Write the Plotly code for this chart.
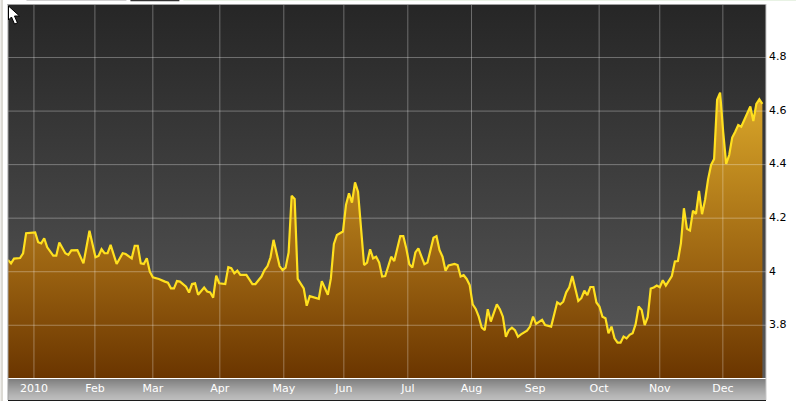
import plotly.graph_objects as go

day_index = [0,1,2,4,5,6,9,10,11,12,13,15,16,17,19,20,21,23,25,27,29,30,31,32,33,34,36,37,38,39,41,42,43,44,45,46,47,48,50,52,53,54,55,56,57,59,60,61,62,63,65,66,67,68,69,70,72,73,74,75,76,77,79,81,82,84,85,86,87,88,90,91,92,93,94,95,96,98,99,100,101,103,104,106,107,108,109,111,112,113,114,115,116,118,119,120,121,122,123,124,125,127,128,130,131,132,133,134,135,136,138,139,141,142,143,144,145,146,148,149,150,151,152,153,154,155,156,157,158,159,160,162,163,164,165,166,167,168,169,170,172,173,174,175,177,178,180,182,183,184,185,186,187,189,190,191,192,193,194,195,196,197,198,199,200,201,202,203,204,205,206,207,208,209,210,211,212,213,214,215,216,217,218,219,220,221,222,223,224,225,226,227,228,229,230,231,232,233,234,235,236,237,238,239,240,241,242,243,244,246,247,248,249,250]
price = [4.044,4.031,4.049,4.051,4.069,4.144,4.147,4.110,4.106,4.125,4.091,4.060,4.060,4.109,4.069,4.063,4.080,4.081,4.031,4.153,4.054,4.059,4.084,4.069,4.069,4.100,4.029,4.050,4.069,4.066,4.050,4.097,4.097,4.031,4.029,4.050,4.000,3.979,3.973,3.963,3.959,3.938,3.938,3.965,3.963,3.944,3.922,3.954,3.957,3.914,3.941,3.926,3.923,3.903,3.985,3.957,3.954,4.017,4.013,3.994,4.004,3.988,3.988,3.954,3.954,3.982,4.006,4.021,4.054,4.119,4.021,4.006,4.015,4.072,4.284,4.272,3.973,3.938,3.873,3.909,3.906,3.899,3.965,3.914,3.975,4.104,4.137,4.150,4.249,4.293,4.258,4.334,4.299,4.025,4.034,4.084,4.050,4.056,4.034,3.982,3.984,4.056,4.040,4.133,4.133,4.087,4.028,4.016,4.072,4.087,4.028,4.034,4.127,4.133,4.081,4.056,4.004,4.023,4.029,4.025,3.982,3.987,3.973,3.950,3.878,3.861,3.832,3.791,3.782,3.860,3.814,3.878,3.860,3.832,3.757,3.782,3.791,3.782,3.757,3.766,3.780,3.795,3.832,3.805,3.820,3.801,3.795,3.886,3.878,3.888,3.923,3.942,3.984,3.891,3.901,3.929,3.913,3.943,3.943,3.885,3.870,3.832,3.826,3.770,3.795,3.751,3.735,3.735,3.758,3.751,3.764,3.770,3.804,3.870,3.857,3.801,3.830,3.937,3.941,3.948,3.942,3.968,3.948,3.969,3.984,4.038,4.040,4.106,4.237,4.160,4.154,4.228,4.216,4.302,4.215,4.268,4.345,4.399,4.421,4.642,4.669,4.523,4.403,4.436,4.501,4.523,4.548,4.542,4.569,4.617,4.563,4.627,4.644,4.627]
month_pos = [8.6,28.8,48,70.2,91.4,111.3,132.5,153.6,174.7,195.9,216,236.9]
month_labels = ["2010","Feb","Mar","Apr","May","Jun","Jul","Aug","Sep","Oct","Nov","Dec"]
y_ticks = [3.8,4.0,4.2,4.4,4.6,4.8]
y_labels = ["3.8","4","4.2","4.4","4.6","4.8"]
x_lo, x_hi = 0, 251.2
y_lo, y_hi = 3.603, 5.0

W, H = 796, 401
L, R, T, B = 7.5, 30, 4, 23

grid_x, grid_y = [], []
for v in y_ticks:
    grid_x += [x_lo, x_hi, None]; grid_y += [v, v, None]
for p in month_pos:
    grid_x += [p, p, None]; grid_y += [y_lo, y_hi, None]

fig = go.Figure()
fig.add_trace(go.Scatter(x=[x_lo, x_hi], y=[y_hi, y_hi], mode="none", fill="tozeroy",
    fillgradient=dict(type="vertical", start=y_lo, stop=y_hi,
        colorscale=[[0, "#5a5a5a"], [1, "#262626"]]), hoverinfo="skip"))
fig.add_trace(go.Scatter(x=day_index, y=price, mode="none", fill="tozeroy",
    fillgradient=dict(type="vertical", start=y_lo, stop=4.67,
        colorscale=[[0, "#6a3500"], [0.37, "#996110"], [1, "#dba82a"]]), hoverinfo="skip"))
fig.add_trace(go.Scatter(x=grid_x, y=grid_y, mode="lines",
    line=dict(color="rgba(255,255,255,0.32)", width=1), hoverinfo="skip"))
fig.add_trace(go.Scatter(x=day_index, y=price, mode="lines",
    line=dict(color="#ffe01f", width=2.2)))

shapes = []
def rect(x0, y0, x1, y1, color, layer="below"):
    shapes.append(dict(type="rect", xref="paper", yref="paper",
        x0=(x0 - L) / (W - L - R), x1=(x1 - L) / (W - L - R),
        y0=1 - (y0 - T) / (H - T - B), y1=1 - (y1 - T) / (H - T - B),
        fillcolor=color, line_width=0, layer=layer))
# grey label strip below the plot
strip = ["#808080","#838383","#878787","#8b8b8b","#8e8e8e","#929292","#959595","#999999","#9c9c9c","#a0a0a0",
         "#a3a3a3","#a6a6a6","#a9a9a9","#acacac","#afafaf","#b2b2b2","#b5b5b5","#b7b7b7","#b9b9b9","#bbbbbb","#bdbdbd"]
for i, c in enumerate(strip):
    rect(7.5, 379 + i, 766, 380 + i, c)
rect(7.5, 400, 766, 401, "#1c1c1c")
rect(0, 0, 2.5, 401, "#dcdad4")
rect(7, 4, 8, 400, "#a0a0a0", "above")
rect(7, 4, 766, 5, "#a0a0a0", "above")
rect(765.5, 4, 766.5, 400, "#c8c8c8", "above")
rect(26, 0, 126, 1, "#d0d0d0")
rect(130, 0, 179, 1.2, "#333333")
rect(183, 0, 796, 1, "#e8f2e4")
fig.update_layout(shapes=shapes)

# mouse pointer at the top left of the capture
def px(x, y):
    return f"{(x - L) / (W - L - R):.5f} {1 - (y - T) / (H - T - B):.5f}"
arrow = [(8,6),(8,20),(11,17),(14,24),(17,23),(14,16),(19,16)]
path = "M " + " L ".join(px(*p) for p in arrow) + " Z"
fig.add_shape(type="path", xref="paper", yref="paper", path=path, fillcolor="white",
              line=dict(color="black", width=1), layer="above")

fig.update_layout(
    width=W, height=H, showlegend=False, paper_bgcolor="white", plot_bgcolor="#444444",
    margin=dict(l=L, r=R, t=T, b=B, pad=0),
    xaxis=dict(range=[x_lo, x_hi], tickmode="array", tickvals=month_pos, ticktext=month_labels,
               showgrid=False, zeroline=False, showline=False, ticks="",
               tickfont=dict(family="DejaVu Sans", size=11, color="white"), ticklabelstandoff=2),
    yaxis=dict(range=[y_lo, y_hi], side="right", tickmode="array", tickvals=y_ticks, ticktext=y_labels,
               showgrid=False, zeroline=False, showline=False, ticks="",
               tickfont=dict(family="DejaVu Sans", size=11, color="black"), ticklabelstandoff=2, ticklabelshift=-1),
)
fig.write_html("out.html", config=dict(displayModeBar=False),
               post_script="document.body.style.margin='0';document.body.style.overflow='hidden';")
